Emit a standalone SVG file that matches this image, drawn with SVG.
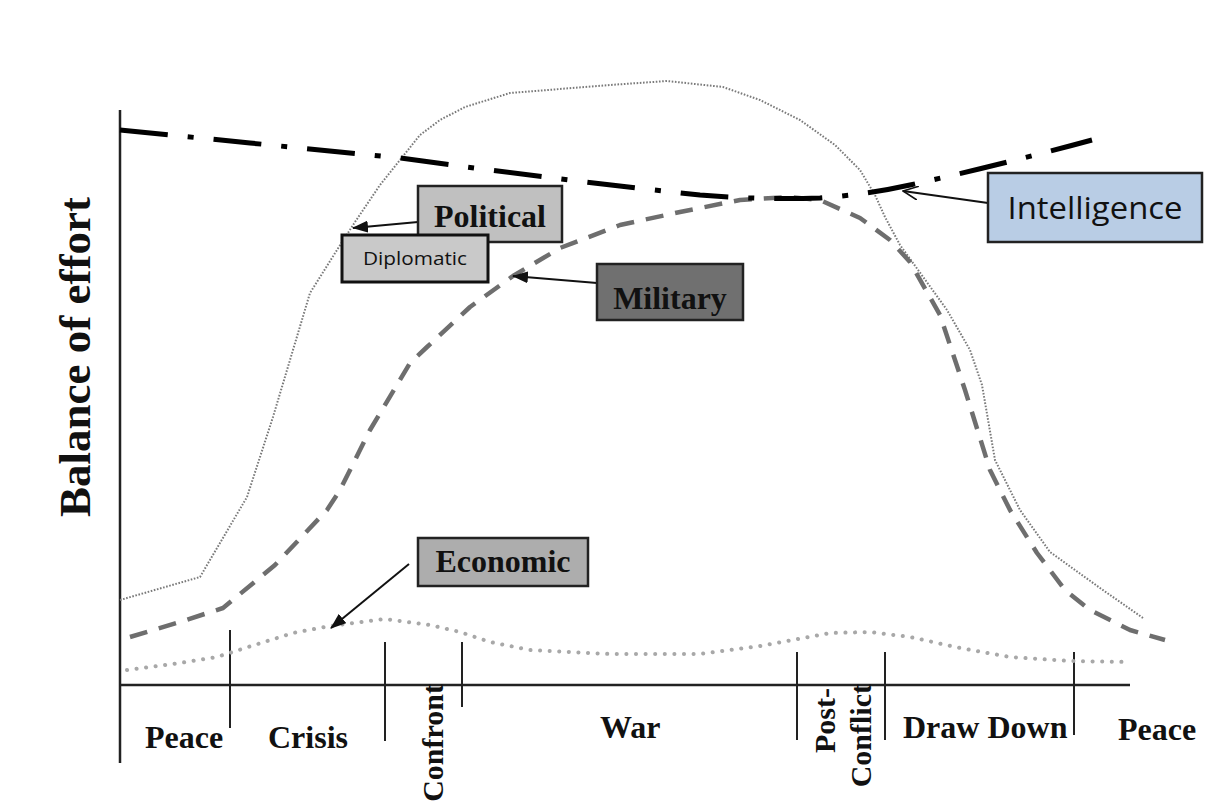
<svg xmlns="http://www.w3.org/2000/svg" width="1214" height="802" viewBox="0 0 1214 802">
<style>
.serif{font-family:"Liberation Serif","Times New Roman",serif;font-weight:bold;fill:#111}
.sans{font-family:"Open Sans","Liberation Sans",sans-serif;fill:#111}
.axis{stroke:#222;stroke-width:2.5;fill:none}
.tick{stroke:#222;stroke-width:2;fill:none}
.curve{fill:none;stroke-linejoin:round}
.lbl{stroke:#222;stroke-width:2.5}
.conn{stroke:#111;stroke-width:2;fill:none}
</style>
<defs>
<marker id="fill" viewBox="0 0 16 12" refX="15" refY="6" markerWidth="16" markerHeight="12" markerUnits="userSpaceOnUse" orient="auto">
<path d="M0,0 L16,6 L0,12 Z" fill="#111"/>
</marker>
<marker id="open" viewBox="0 0 16 14" refX="15" refY="7" markerWidth="16" markerHeight="14" markerUnits="userSpaceOnUse" orient="auto">
<path d="M0,0 L15,7 L0,14" fill="none" stroke="#111" stroke-width="1.6"/>
</marker>
</defs>
<rect width="1214" height="802" fill="#fff"/>

<g id="axes">
<line class="axis" x1="120" y1="110" x2="120" y2="763"/>
<line class="axis" x1="120" y1="685" x2="1130" y2="685"/>
<line class="tick" x1="230" y1="630" x2="230" y2="728"/>
<line class="tick" x1="385" y1="642" x2="385" y2="741"/>
<line class="tick" x1="462" y1="642" x2="462" y2="707"/>
<line class="tick" x1="797" y1="652" x2="797" y2="740"/>
<line class="tick" x1="885" y1="652" x2="885" y2="740"/>
<line class="tick" x1="1074" y1="652" x2="1074" y2="735"/>
<text class="serif" font-size="45" text-anchor="middle" transform="translate(90,357) rotate(-90)">Balance of effort</text>
<text class="serif" font-size="32" x="145" y="748">Peace</text>
<text class="serif" font-size="32" x="268" y="748">Crisis</text>
<text class="serif" font-size="30" text-anchor="end" transform="translate(443,684) rotate(-90)">Confront</text>
<text class="serif" font-size="32" x="600" y="738">War</text>
<text class="serif" font-size="30" text-anchor="end" transform="translate(835,688) rotate(-90)">Post-</text>
<text class="serif" font-size="30" text-anchor="end" transform="translate(871,684) rotate(-90)">Conflict</text>
<text class="serif" font-size="32" x="903" y="738">Draw Down</text>
<text class="serif" font-size="32" x="1118" y="740">Peace</text>
</g>

<g id="curves">
<polyline id="political-curve" class="curve" stroke="#7a7a7a" stroke-width="2" stroke-dasharray="1.6 1.6" points="120,600 200,577 247,497 273,417 290,360 310,293 337,250 355,222 380,185 400,160 420,135 440,120 465,107 510,93 560,89 610,85 667,81 723,87 760,100 800,120 835,145 860,170 875,195 885,217 900,245 947,310 970,350 982,385 995,460 1020,510 1050,552 1100,588 1143,618"/>
<polyline id="military-curve" class="curve" stroke="#6e6e6e" stroke-width="4.5" stroke-dasharray="18 12" points="130,637 180,622 223,608 275,565 327,510 340,490 370,430 410,363 427,347 470,307 513,276 560,248 620,225 680,212 740,200 790,197 820,200 860,218 890,240 910,262 940,315 965,390 990,470 1010,510 1037,553 1065,590 1090,610 1130,630 1165,640"/>
<polyline id="economic-curve" class="curve" stroke="#a8a8a8" stroke-width="4" stroke-linecap="round" stroke-dasharray="0.1 9.5" points="127,670 180,663 217,657 245,648 293,633 330,626 385,619 430,625 460,632 490,642 530,650 610,654 700,654 760,646 830,633 870,632 910,637 960,648 1010,657 1070,661 1130,662"/>
<path id="intelligence-curve" class="curve" stroke="#000" stroke-width="5" stroke-dasharray="48 20 6 20" d="M120,130 L250,143 L400,158 Q560,180 700,195 Q760,200 820,198 Q870,194 910,185 Q1000,165 1092,140"/>
</g>

<g id="connectors">
<line class="conn" x1="418" y1="222" x2="353" y2="228" marker-end="url(#fill)"/>
<line class="conn" x1="597" y1="283" x2="513" y2="276" marker-end="url(#fill)"/>
<line class="conn" x1="409" y1="564" x2="331" y2="628" marker-end="url(#fill)"/>
<line class="conn" x1="988" y1="203" x2="903" y2="191" stroke-width="1.8" marker-end="url(#open)"/>
</g>

<g id="political">
<rect class="lbl" x="418" y="186" width="144" height="56" fill="#c0c0c0"/>
<text class="serif" font-size="32" x="490" y="227" text-anchor="middle">Political</text>
</g>
<g id="diplomatic">
<rect x="342" y="235" width="146" height="47" fill="#c9c9c9" stroke="#111" stroke-width="3"/>
<text class="sans" font-size="18" x="415" y="265" text-anchor="middle" textLength="104" lengthAdjust="spacingAndGlyphs">Diplomatic</text>
</g>
<g id="military">
<rect class="lbl" x="597" y="264" width="146" height="56" fill="#707070"/>
<text class="serif" font-size="32" x="670" y="309" text-anchor="middle">Military</text>
</g>
<g id="economic">
<rect class="lbl" x="418" y="538" width="170" height="48" fill="#adadad"/>
<text class="serif" font-size="32" x="503" y="572" text-anchor="middle">Economic</text>
</g>
<g id="intelligence">
<rect class="lbl" x="988" y="173" width="214" height="69" fill="#b9cde5"/>
<text class="sans" font-size="31" x="1095" y="219" text-anchor="middle" textLength="175" lengthAdjust="spacingAndGlyphs">Intelligence</text>
</g>
</svg>
